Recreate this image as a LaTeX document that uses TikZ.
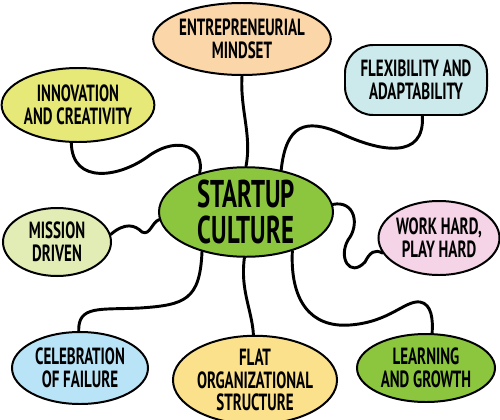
\documentclass[tikz,border=0pt]{standalone}
\usepackage{fontspec}
\setmainfont[FakeStretch=0.64]{PT Sans}
\usepackage{xcolor}
\usetikzlibrary{shapes.geometric, calc}
\definecolor{hubgreen}{RGB}{140,198,62}
\definecolor{peach}{RGB}{251,214,168}
\definecolor{limeyellow}{RGB}{230,232,119}
\definecolor{paleteal}{RGB}{204,233,235}
\definecolor{palelime}{RGB}{226,236,181}
\definecolor{palepink}{RGB}{244,212,230}
\definecolor{skyblue}{RGB}{185,227,247}
\definecolor{butter}{RGB}{251,225,139}

\begin{document}
\begin{tikzpicture}[x=0.03cm, y=-0.03cm,
    bubble/.style={ellipse, draw=black, line width=1.7pt, inner sep=0pt, align=center,
        font=\bfseries\fontsize{20}{19.5}\selectfont},
    link/.style={line width=2.5pt, line cap=round}]
    \useasboundingbox (0,0) rectangle (500,420);

    % Central topic
    \node[bubble, fill=hubgreen, minimum width=5.22cm, minimum height=2.52cm,
        font=\bfseries\fontsize{33}{30}\selectfont] (hub) at (246,212) {STARTUP\\CULTURE};

    % Branch bubbles
    \node[bubble, fill=peach, minimum width=4.74cm, minimum height=2.16cm]
        (mindset) at (242,39) {ENTREPRENEURIAL\\MINDSET};
    \node[bubble, fill=limeyellow, minimum width=4.14cm, minimum height=2.22cm]
        (innovation) at (78,105) {INNOVATION\\AND CREATIVITY};
    \node[bubble, shape=rectangle, rounded corners=24pt, fill=paleteal,
        minimum width=4.26cm, minimum height=2.1cm]
        (flexibility) at (416,80) {FLEXIBILITY AND\\ADAPTABILITY};
    \node[bubble, fill=palelime, minimum width=3.24cm, minimum height=2.04cm]
        (mission) at (57,242) {MISSION\\DRIVEN};
    \node[bubble, fill=palepink, minimum width=3.54cm, minimum height=2.22cm]
        (workhard) at (439,238) {WORK HARD,\\PLAY HARD};
    \node[bubble, fill=skyblue, minimum width=4.08cm, minimum height=2.16cm]
        (failure) at (80,368) {CELEBRATION\\OF FAILURE};
    \node[bubble, fill=butter, minimum width=4.32cm, minimum height=2.28cm]
        (flat) at (255,380) {FLAT\\ORGANIZATIONAL\\STRUCTURE};
    \node[bubble, fill=hubgreen, minimum width=4.14cm, minimum height=2.04cm]
        (learning) at (426,368) {LEARNING\\AND GROWTH};

    % Wavy connectors
    \draw[link] (mindset.south) .. controls (240,110) and (252,135) .. (hub.north);
    \draw[link] (innovation.260) .. controls (72,185) and (120,178) .. (150,155)
        .. controls (180,135) and (205,148) .. (hub.140);
    \draw[link] (hub.50) .. controls (286,125) and (305,118) .. (340,133)
        .. controls (380,152) and (425,160) .. (flexibility.-80);
    \draw[link] (mission.8) .. controls (125,222) and (135,225) .. (142,232)
        .. controls (150,236) and (152,222) .. (hub.185);
    \draw[link] (hub.5) .. controls (355,200) and (360,225) .. (348,240)
        .. controls (338,258) and (350,278) .. (365,262)
        .. controls (370,252) and (375,249) .. (workhard.195);
    \draw[link] (hub.222) .. controls (200,300) and (185,305) .. (140,308)
        .. controls (100,310) and (78,305) .. (failure.92);
    \draw[link] (hub.268) .. controls (240,290) and (252,310) .. (flat.92);
    \draw[link] (hub.-40) .. controls (290,300) and (310,328) .. (350,325)
        .. controls (390,322) and (405,300) .. (420,302)
        .. controls (432,304) and (433,320) .. (learning.80);
\end{tikzpicture}
\end{document}
